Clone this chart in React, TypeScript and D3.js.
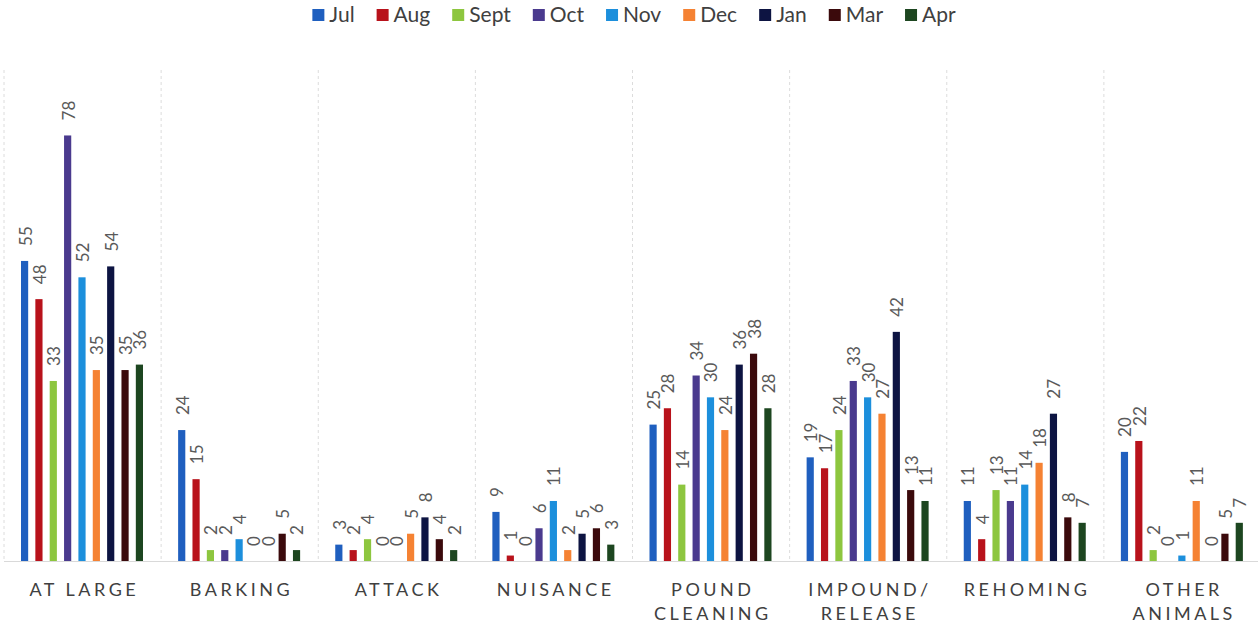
import React, { useEffect, useRef } from "react";
import * as d3 from "d3";

// Complaint categories (x axis) – multi-line labels split on "\n"
const categories = [
  "AT LARGE",
  "BARKING",
  "ATTACK",
  "NUISANCE",
  "POUND\nCLEANING",
  "IMPOUND/\nRELEASE",
  "REHOMING",
  "OTHER\nANIMALS",
];

const months = ["Jul", "Aug", "Sept", "Oct", "Nov", "Dec", "Jan", "Mar", "Apr"];

const monthColors = [
  "#1f5fbf",
  "#b8121b",
  "#8dc63f",
  "#4a3a8e",
  "#1c8fdc",
  "#f58233",
  "#0d1442",
  "#3b0a0c",
  "#1d4620",
];

// One row per month, one value per category
const julValues = [55, 24, 3, 9, 25, 19, 11, 20];
const augValues = [48, 15, 2, 1, 28, 17, 4, 22];
const septValues = [33, 2, 4, 0, 14, 24, 13, 2];
const octValues = [78, 2, 0, 6, 34, 33, 11, 0];
const novValues = [52, 4, 0, 11, 30, 30, 14, 1];
const decValues = [35, 0, 5, 2, 24, 27, 18, 11];
const janValues = [54, 0, 8, 5, 36, 42, 27, 0];
const marValues = [35, 5, 4, 6, 38, 13, 8, 5];
const aprValues = [36, 2, 2, 3, 28, 11, 7, 7];

const seriesValues = [
  julValues,
  augValues,
  septValues,
  octValues,
  novValues,
  decValues,
  janValues,
  marValues,
  aprValues,
];

const W = 1258;
const H = 623;
const FONT = "Lato, 'Open Sans', sans-serif";

export default function App() {
  const ref = useRef<SVGSVGElement | null>(null);

  useEffect(() => {
    const svg = d3.select(ref.current);
    svg.selectAll("*").remove();

    const plotLeft = 4;
    const plotRight = 1261;
    const plotTop = 70;
    const baseline = 561;

    const x = d3.scaleBand<string>().domain(categories).range([plotLeft, plotRight]).padding(0);
    const inner = d3
      .scaleBand<string>()
      .domain(months)
      .range([17, 139])
      .paddingInner(0.5)
      .paddingOuter(0);
    const y = d3.scaleLinear().domain([0, 90]).range([baseline, plotTop]);

    // vertical dashed separators between categories
    const seps = d3.range(categories.length + 1).map((i) =>
      i < categories.length ? (x(categories[i]) as number) : plotRight
    );
    svg
      .append("g")
      .selectAll("line")
      .data(seps)
      .join("line")
      .attr("x1", (d) => d)
      .attr("x2", (d) => d)
      .attr("y1", plotTop)
      .attr("y2", baseline)
      .attr("stroke", "#dcdcdc")
      .attr("stroke-width", 1)
      .attr("stroke-dasharray", "3,3");

    // baseline
    svg
      .append("line")
      .attr("x1", plotLeft)
      .attr("x2", plotRight)
      .attr("y1", baseline + 0.5)
      .attr("y2", baseline + 0.5)
      .attr("stroke", "#d9d9d9")
      .attr("stroke-width", 1);

    // bars + value labels
    const flat: { cat: string; month: string; value: number; color: string }[] = [];
    months.forEach((m, mi) => {
      categories.forEach((c, ci) => {
        flat.push({ cat: c, month: m, value: seriesValues[mi][ci], color: monthColors[mi] });
      });
    });

    const bars = svg.append("g");
    bars
      .selectAll("rect")
      .data(flat)
      .join("rect")
      .attr("x", (d) => (x(d.cat) as number) + (inner(d.month) as number))
      .attr("width", inner.bandwidth())
      .attr("y", (d) => y(d.value))
      .attr("height", (d) => baseline - y(d.value))
      .attr("fill", (d) => d.color);

    bars
      .selectAll("text")
      .data(flat)
      .join("text")
      .attr("transform", (d) => {
        const cx = (x(d.cat) as number) + (inner(d.month) as number) + inner.bandwidth() / 2 + 1;
        const ty = y(d.value) - 15;
        return `translate(${cx},${ty}) rotate(-90)`;
      })
      .attr("dy", "0.35em")
      .attr("text-anchor", "start")
      .attr("font-family", FONT)
      .attr("font-size", 17)
      .attr("fill", "#5a5a5a")
      .text((d) => String(d.value));

    // category labels
    const ls = 3.5;
    const catG = svg.append("g");
    categories.forEach((c) => {
      const cx = (x(c) as number) + x.bandwidth() / 2 + ls / 2;
      c.split("\n").forEach((line, li) => {
        catG
          .append("text")
          .attr("x", cx)
          .attr("y", 596 + li * 24)
          .attr("text-anchor", "middle")
          .attr("font-family", FONT)
          .attr("font-size", 18)
          .attr("letter-spacing", ls)
          .attr("fill", "#404040")
          .text(line);
      });
    });

    // legend
    const legend = svg.append("g");
    const items = months.map((m, i) => {
      const g = legend.append("g");
      g.append("rect").attr("width", 12).attr("height", 12).attr("y", 9).attr("fill", monthColors[i]);
      const t = g
        .append("text")
        .attr("x", 17)
        .attr("y", 22)
        .attr("font-family", FONT)
        .attr("font-size", 21)
        .attr("fill", "#404040")
        .text(m);
      const w = (t.node() as SVGTextElement).getComputedTextLength();
      return { g, width: 17 + w };
    });
    const gap = 22;
    const total = d3.sum(items, (d) => d.width) + gap * (items.length - 1);
    let cursor = 634 - total / 2;
    items.forEach((it) => {
      it.g.attr("transform", `translate(${cursor},0)`);
      cursor += it.width + gap;
    });
  }, []);

  return (
    <svg
      ref={ref}
      width={W}
      height={H}
      style={{ position: "absolute", left: 0, top: 0, background: "#fff" }}
    />
  );
}
